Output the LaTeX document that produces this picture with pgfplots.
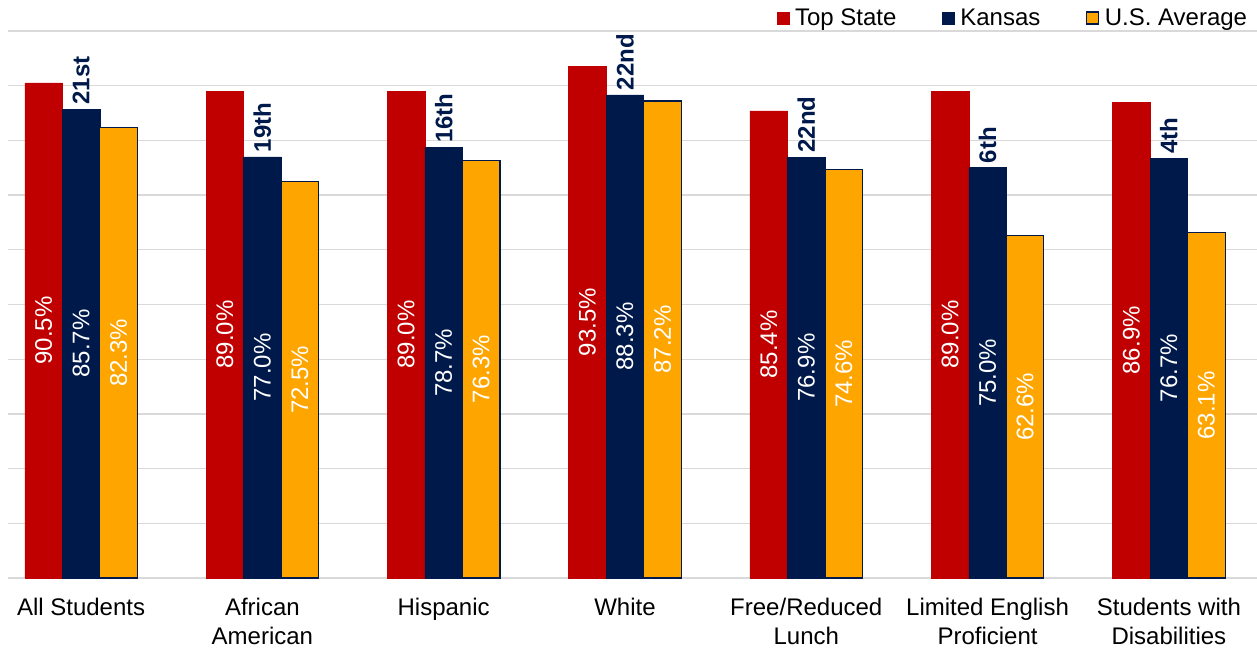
\documentclass[border=0pt]{standalone}
\usepackage{pgfplots}
\pgfplotsset{compat=1.18}
\usepackage{fontspec}
\setmainfont{Liberation Sans}
\definecolor{topred}{HTML}{C00000}
\definecolor{ksnavy}{HTML}{00194B}
\definecolor{usorange}{HTML}{FFA500}
\definecolor{gridgray}{HTML}{D9D9D9}
\begin{document}
\begin{tikzpicture}
\path[use as bounding box] (-6pt,-53.25pt) rectangle (936.75pt,433.5pt);
\begin{axis}[
  at={(0,0)}, anchor=south west,
  scale only axis, width=936.75pt, height=410.25pt,
  xmin=-0.403, xmax=6.486, ymin=0, ymax=100,
  clip=false,
  axis line style={draw=none},
  ytick={0,10,...,100}, yticklabels={},
  ymajorgrids, grid style={gridgray, line width=1pt},
  major tick length=0pt,
  xtick={0,1,2,3,4,5,6},
  xticklabels={All Students, African\\American, Hispanic, White, Free/Reduced\\Lunch, Limited English\\Proficient, Students with\\Disabilities},
  xticklabel style={align=center, font=\fontsize{18}{21.5}\selectfont, yshift=-11.5pt},
  /pgf/number format/assume math mode=true,
  ybar, bar width=0.207,
  legend columns=3,
  legend style={draw=none, fill=none, at={(1,1)}, anchor=east, yshift=9.75pt, xshift=-2.25pt,
    font=\fontsize{18}{21}\selectfont,
    /tikz/every odd column/.append style={column sep=2pt},
    /tikz/every even column/.append style={column sep=32.5pt}},
  legend image code/.code={\draw[#1] (0pt,-4.5pt) rectangle (9pt,4.5pt);},
  visualization depends on={y \as \rawy},
  nodes near coords={\pgfmathprintnumber[fixed,fixed zerofill,precision=1]{\pgfplotspointmeta}\%},
  every node near coord/.append style={shift={(axis direction cs:0,-\rawy/2)}, rotate=90, anchor=center, text=white, font=\fontsize{18}{21}\selectfont},
]
\addplot[fill=topred, draw=topred, bar shift=-0.207] coordinates {(0,90.5) (1,89.0) (2,89.0) (3,93.5) (4,85.4) (5,89.0) (6,86.9)};
\addlegendentry{Top State}
\addplot[fill=ksnavy, draw=ksnavy, bar shift=0] coordinates {(0,85.7) (1,77.0) (2,78.7) (3,88.3) (4,76.9) (5,75.0) (6,76.7)};
\addlegendentry{Kansas}
\addplot[fill=usorange, draw=ksnavy, line width=0.8pt, bar shift=0.207] coordinates {(0,82.3) (1,72.5) (2,76.3) (3,87.2) (4,74.6) (5,62.6) (6,63.1)};
\addlegendentry{U.S. Average}
\addplot[draw=none, fill=none, bar shift=0, forget plot, point meta=explicit symbolic,
  nodes near coords, every node near coord/.style={rotate=90, anchor=west, text=ksnavy, font=\fontsize{18}{21}\selectfont\bfseries}]
  table[meta=rank] {
x y rank
0 85.7 21st
1 77.0 19th
2 78.7 16th
3 88.3 22nd
4 76.9 22nd
5 75.0 6th
6 76.7 4th
};
\end{axis}
\end{tikzpicture}
\end{document}
